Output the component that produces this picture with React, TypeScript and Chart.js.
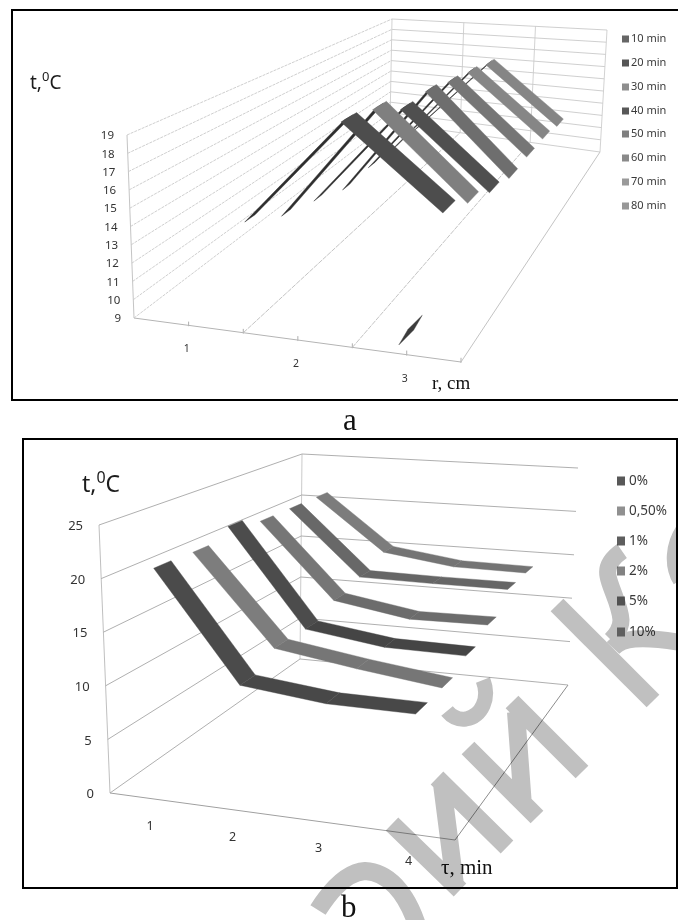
import React, { useEffect, useRef } from "react";
import { Chart, registerables } from "chart.js";

Chart.register(...registerables);

/* ---------- chart a: temperature against radius ---------- */
const radiusCats = ["1", "2", "3"];
const timeSeries = ["10 min", "20 min", "30 min", "40 min", "50 min", "60 min", "70 min", "80 min"];
const tempTicksA = [9, 10, 11, 12, 13, 14, 15, 16, 17, 18, 19];
const t20 = [12.3, 18.7, 14.1];
const t30 = [11.0, 18.3, 13.2];
const t40 = [10.35, 17.2, 12.4];
const t50 = [9.5, 17.3, 11.9];
const t60 = [9.6, 16.9, 12.0];
const t70 = [9.5, 16.6, 12.0];
const t80 = [9.6, 16.2, 11.7];
const visibleA = [null, t20, t30, t40, t50, t60, t70, t80];
const legendColorsA = ["#666666", "#565656", "#8e8e8e", "#585858", "#7f7f7f", "#8a8a8a", "#9a9a9a", "#989898"];
const bandColorsA = ["#4d4d4d", "#4d4d4d", "#7f7f7f", "#4f4f4f", "#6e6e6e", "#767676", "#868686", "#858585"];
/* the 10 min series only pierces the floor near r = 3 */
const t10FloorCat = 2.87;

/* ---------- chart b: temperature against time ---------- */
const timeCats = ["1", "2", "3", "4"];
const concSeries = ["0%", "0,50%", "1%", "2%", "5%", "10%"];
const tempTicksB = [0, 5, 10, 15, 20, 25];
const c0 = [20.8, 10.65, 9.8, 9.75];
const c05 = [20.7, 12.0, 10.8, 9.8];
const c1 = [21.8, 11.9, 10.8, 10.7];
const c2 = [20.9, 13.0, 11.7, 11.8];
const c5 = [20.9, 13.8, 13.7, 13.7];
const c10 = [20.9, 15.0, 13.9, 13.8];
const seriesB = [c0, c05, c1, c2, c5, c10];
const legendColorsB = ["#585858", "#909090", "#5e5e5e", "#828282", "#6c6c6c", "#7e7e7e"];
const bandColorsB = ["#4b4b4b", "#7d7d7d", "#4c4c4c", "#767676", "#686868", "#7c7c7c"];
const flatColorsB = ["#484848", "#767676", "#454545", "#6c6c6c", "#666666", "#747474"];

type P = [number, number];

/* perspective box from its visible corners */
function makeProjection(fa: P, fb: P, fc: P, fd: P, ta: P, tc: P, td: P) {
  const dx1 = fb[0] - fc[0], dy1 = fb[1] - fc[1];
  const dx2 = fd[0] - fc[0], dy2 = fd[1] - fc[1];
  const sx = fa[0] - fb[0] + fc[0] - fd[0], sy = fa[1] - fb[1] + fc[1] - fd[1];
  const det = dx1 * dy2 - dx2 * dy1;
  const g = (sx * dy2 - dx2 * sy) / det;
  const h = (dx1 * sy - sx * dy1) / det;
  const fl = {
    a: fb[0] - fa[0] + g * fb[0], b: fd[0] - fa[0] + h * fd[0], c: fa[0],
    d: fb[1] - fa[1] + g * fb[1], e: fd[1] - fa[1] + h * fd[1], f: fa[1],
  };
  const tb = td[0] * (1 + h) - ta[0], te = td[1] * (1 + h) - ta[1];
  const tl = {
    a: tc[0] * (1 + g + h) - tb - ta[0], b: tb, c: ta[0],
    d: tc[1] * (1 + g + h) - te - ta[1], e: te, f: ta[1],
  };
  return (u: number, v: number, t: number) => {
    const w = 1 + g * u + h * v;
    const m = (k: "a" | "b" | "c" | "d" | "e" | "f") => fl[k] + (tl[k] - fl[k]) * t;
    return { x: (m("a") * u + m("b") * v + m("c")) / w, y: (m("d") * u + m("e") * v + m("f")) / w };
  };
}

const projA = makeProjection([134, 318], [461, 362], [600, 152], [390, 123], [127, 135], [607, 30], [392, 19]);
const projB = makeProjection([110, 793], [455, 840], [568, 685], [300, 659], [99, 525], [578, 468], [302, 454]);
const lvlA = (val: number) => (val - 9) / 10;
const lvlB = (val: number) => val / 25;
const SANS = '"Noto Sans", "Open Sans", sans-serif';
const SERIF = '"Liberation Serif", serif';

function poly(points: { x: number; y: number }[], color: string) {
  return {
    type: "scatter", data: [...points, points[0]], showLine: true, fill: "shape", tension: 0,
    backgroundColor: color, borderColor: color, borderWidth: 0.4, pointRadius: 0, clip: false,
  };
}
function line(points: { x: number; y: number }[], color: string, width = 1, dash: number[] = []) {
  return {
    type: "scatter", data: points, showLine: true, fill: false, tension: 0,
    borderColor: color, borderWidth: width, borderDash: dash, pointRadius: 0, clip: false,
  };
}

function ribbon(proj: any, lvl: any, values: number[], v: number, half: number, riseHalf: number, n: number, colorOf: (i: number, rising: boolean) => string) {
  const faces: any[] = [];
  for (let i = values.length - 2; i >= 0; i--) {
    const u0 = (i + 0.5) / n, u1 = (i + 1.5) / n;
    const t0 = lvl(values[i]), t1 = lvl(values[i + 1]);
    const hw = t1 > t0 ? riseHalf : half;
    faces.push(poly([proj(u0, v - hw, t0), proj(u1, v - hw, t1), proj(u1, v + hw, t1), proj(u0, v + hw, t0)], colorOf(i, t1 > t0)));
  }
  return faces;
}

function buildA() {
  const out: any[] = [];
  const m = timeSeries.length, n = radiusCats.length;
  visibleA.forEach((vals, j) => {
    if (!vals) return;
    const v = (j + 0.5) / m;
    out.push(...ribbon(projA, lvlA, vals, v, 0.03, 0.017, n, (_i, rising) => (rising ? "#2e2e2e" : bandColorsA[j])));
  });
  const uc = (t10FloorCat - 0.5) / n;
  out.unshift(poly([projA(uc, 0.025, 0), projA(uc + 0.009, 0.075, 0), projA(uc, 0.125, 0), projA(uc - 0.009, 0.075, 0)], "#3c3c3c"));
  const wall = "#c9c9c9", dashes = [3, 1];
  tempTicksA.forEach((val) => {
    const t = lvlA(val);
    out.push(line([projA(0, 0, t), projA(0, 1, t)], wall, 0.9, dashes));
    out.push(line([projA(0, 1, t), projA(1, 1, t)], wall, 0.9));
  });
  [0, 1 / 3, 2 / 3, 1].forEach((u) => out.push(line([projA(u, 1, 0), projA(u, 1, 1)], "#cdcdcd", 0.9)));
  out.push(line([projA(0, 0, 0), projA(0, 0, 1)], "#bdbdbd", 0.9));
  [1 / 3, 2 / 3, 1].forEach((u) => out.push(line([projA(u, 0, 0), projA(u, 1, 0)], "#bcbcbc", 0.9, u < 1 ? [5, 1] : [])));
  out.push(line([projA(0, 0, 0), projA(1, 0, 0)], "#b4b4b4", 1));
  [1 / 6, 1 / 3, 1 / 2, 2 / 3, 5 / 6, 1].forEach((u) => out.push(line([projA(u, 0, -0.004), projA(u, 0, 0.02)], "#999999", 0.8)));
  return out;
}

function buildB() {
  const out: any[] = [];
  const m = concSeries.length, n = timeCats.length;
  seriesB.forEach((vals, j) => {
    const v = (j + 0.5) / m;
    out.push(...ribbon(projB, lvlB, vals, v, 0.036, 0.036, n, (i) => (i === 0 ? bandColorsB[j] : flatColorsB[j])));
  });
  tempTicksB.forEach((val) => {
    const t = lvlB(val);
    out.push(line([projB(0, 0, t), projB(0, 1, t)], "#a6a6a6", 0.9));
    out.push(line([projB(0, 1, t), projB(1, 1, t)], "#a6a6a6", 0.9));
  });
  out.push(line([projB(0, 0, 0), projB(0, 0, 1)], "#b8b8b8", 0.9));
  out.push(line([projB(0, 1, 0), projB(0, 1, 1)], "#c4c4c4", 0.9));
  out.push(line([projB(0, 0, 0), projB(1, 0, 0)], "#a0a0a0", 1));
  out.push(line([projB(1, 0, 0), projB(1, 1, 0)], "#8c8c8c", 1));
  return out;
}

function textPlugin(draw: (put: any, ctx: CanvasRenderingContext2D, rect: any) => void) {
  return {
    id: "panelText",
    afterDraw(chart: any) {
      const { ctx, scales } = chart;
      const px = (p: { x: number; y: number }) => ({ x: scales.x.getPixelForValue(p.x), y: scales.y.getPixelForValue(p.y) });
      const put = (s: string, p: { x: number; y: number }, font: string, align: CanvasTextAlign = "left", color = "#333333", base: CanvasTextBaseline = "middle") => {
        const q = px(p);
        ctx.font = font; ctx.fillStyle = color; ctx.textAlign = align; ctx.textBaseline = base;
        ctx.fillText(s, q.x, q.y);
      };
      const rect = (x: number, y: number, w: number, h: number, color: string) => {
        const q = px({ x, y });
        ctx.fillStyle = color; ctx.fillRect(q.x, q.y, w, h);
      };
      ctx.save();
      draw(put, ctx, rect);
      ctx.restore();
    },
  };
}

function degreeLabel(put: any, ctx: CanvasRenderingContext2D, x: number, y: number, size: number) {
  const font = `${size}px ${SANS}`, small = `${Math.round(size * 0.7)}px ${SANS}`;
  ctx.font = font;
  const w1 = ctx.measureText("t,").width;
  ctx.font = small;
  const w2 = ctx.measureText("0").width;
  put("t,", { x, y }, font, "left", "#1c1c1c", "alphabetic");
  put("0", { x: x + w1, y: y - size * 0.4 }, small, "left", "#1c1c1c", "alphabetic");
  put("C", { x: x + w1 + w2, y }, font, "left", "#1c1c1c", "alphabetic");
}

const pluginA = textPlugin((put, ctx, rect) => {
  tempTicksA.forEach((val) => {
    const p = projA(0, 0, lvlA(val));
    put(String(val), { x: p.x - 13, y: p.y + 1 }, `11.5px ${SANS}`, "right");
  });
  radiusCats.forEach((c, i) => {
    const p = projA((i + 0.5) / radiusCats.length, 0, 0);
    put(c, { x: p.x - 2, y: p.y + 24 }, `10.5px ${SANS}`, "center");
  });
  timeSeries.forEach((s, i) => {
    const y = [39, 63, 87, 111, 134, 158, 182, 206][i];
    rect(622, y - 3.5, 7, 7, legendColorsA[i]);
    put(s, { x: 631, y }, `11px ${SANS}`, "left", "#3a3a3a");
  });
  degreeLabel(put, ctx, 30, 89, 19);
  put("r, cm", { x: 432, y: 389 }, `19px ${SERIF}`, "left", "#111111", "alphabetic");
});

const pluginB = textPlugin((put, ctx, rect) => {
  tempTicksB.forEach((val) => {
    const p = projB(0, 0, lvlB(val));
    put(String(val), { x: p.x - 16, y: p.y + 1.5 }, `13px ${SANS}`, "right");
  });
  timeCats.forEach((c, i) => {
    const p = projB((i + 0.5) / timeCats.length, 0, 0);
    put(c, { x: p.x, y: p.y + 27.5 }, `12.5px ${SANS}`, "center");
  });
  concSeries.forEach((s, i) => {
    const y = [481, 511, 541, 571, 601, 632][i];
    rect(617, y - 4.5, 8, 9, legendColorsB[i]);
    put(s, { x: 629, y }, `13.5px ${SANS}`, "left", "#3a3a3a");
  });
  degreeLabel(put, ctx, 82, 492, 23);
  put("\u03c4, min", { x: 441, y: 874 }, `21px ${SERIF}`, "left", "#111111", "alphabetic");
});

function Panel({ top, height, build, plugin }: any) {
  const ref = useRef<HTMLCanvasElement>(null);
  useEffect(() => {
    const chart = new Chart(ref.current as HTMLCanvasElement, {
      type: "scatter",
      data: { datasets: build() },
      plugins: [plugin],
      options: {
        animation: false,
        responsive: false,
        maintainAspectRatio: false,
        layout: { padding: 0 },
        plugins: { legend: { display: false }, tooltip: { enabled: false }, title: { display: false } },
        scales: {
          x: { type: "linear", min: 0, max: 678, display: false },
          y: { type: "linear", min: top, max: top + height, reverse: true, display: false },
        },
      },
    } as any);
    return () => chart.destroy();
  }, []);
  return <canvas ref={ref} width={678} height={height} style={{ position: "absolute", left: 0, top, display: "block" }} />;
}

const frame = (s: React.CSSProperties): React.CSSProperties => ({ position: "absolute", background: "#000", ...s });
const caption = (left: number, top: number): React.CSSProperties => ({
  position: "absolute", left, top, fontFamily: SERIF, fontSize: 31, lineHeight: "36px", color: "#111",
});

export default function App() {
  return (
    <div style={{ position: "absolute", left: 0, top: 0, width: 678, height: 920, overflow: "hidden", background: "#fff" }}>
      <Panel top={0} height={420} build={buildA} plugin={pluginA} />
      <Panel top={420} height={500} build={buildB} plugin={pluginB} />
      <div style={frame({ left: 11, top: 9, width: 667, height: 2 })} />
      <div style={frame({ left: 11, top: 9, width: 2, height: 392 })} />
      <div style={frame({ left: 11, top: 399, width: 667, height: 2 })} />
      <div style={frame({ left: 22, top: 438, width: 656, height: 2 })} />
      <div style={frame({ left: 22, top: 438, width: 2, height: 451 })} />
      <div style={frame({ left: 22, top: 887, width: 656, height: 2 })} />
      <div style={frame({ left: 676, top: 438, width: 2, height: 451 })} />
      <div style={caption(343, 401.5)}>a</div>
      <div style={caption(341, 888.5)}>b</div>
      <svg width={678} height={920} style={{ position: "absolute", left: 0, top: 0, mixBlendMode: "multiply", pointerEvents: "none" }}>
        <g fill="none" stroke="#c0c0c0" strokeWidth={18}>
          <path d="M557 605L653 701" />
          <path d="M622 551C612 558 606 566 608 576C610 588 620 604 621 620C621 628 617 634 611 640" strokeWidth={17} />
          <path d="M613 648C622 638 640 636 678 642" strokeWidth={17} />
          <path d="M684 530C674 545 672 565 681 580" strokeWidth={17} />
          <path d="M392 824L460 890M437 778L507 847M442 784L455 885" />
          <path d="M468 748L537 817M512 702L582 772M516 712L523 806" />
          <path d="M318 910C332 888 348 872 365 871C388 872 406 892 417 925" />
          <path d="M483 680C490 698 482 716 466 719C458 720 452 717 447 711" strokeWidth={15} />
        </g>
      </svg>
    </div>
  );
}
